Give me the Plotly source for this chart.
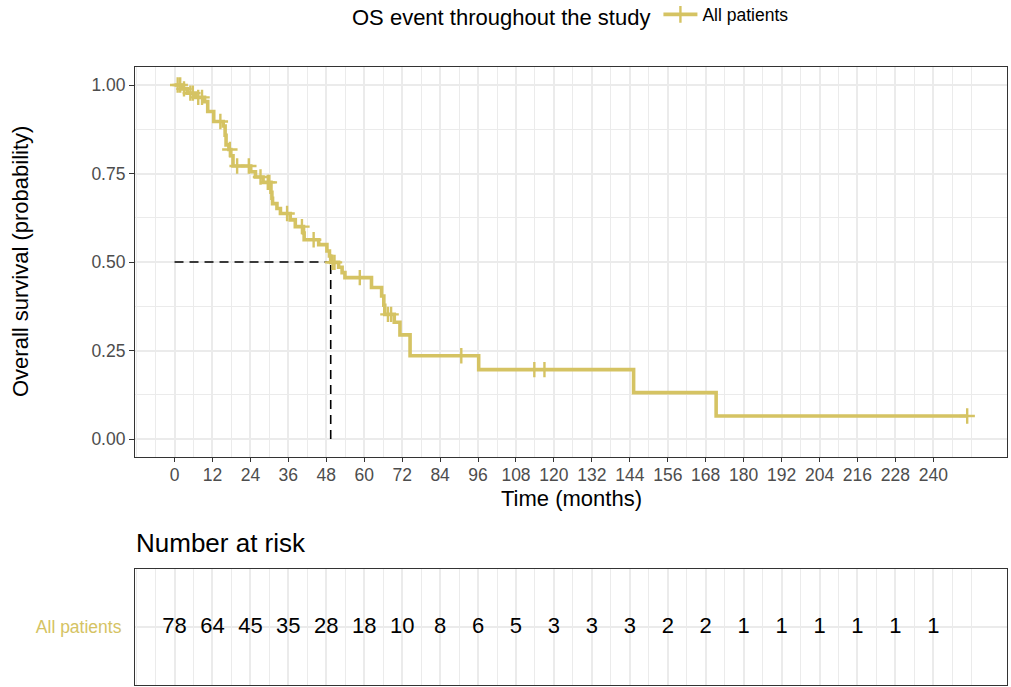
import plotly.graph_objects as go

W, H = 1011, 687

# ---- data ----
event_times = [2.4, 4.0, 6.6, 9.5, 10.5, 12.4, 15.4, 16.0, 16.3, 17.2, 17.8, 18.5,
               24.1, 25.6, 28.0, 30.5, 30.8, 31.0, 32.4, 33.5, 36.6, 38.2, 40.8, 41.0,
               45.6, 48.2, 49.0, 49.4, 51.9, 53.0, 53.9, 62.3, 65.5, 66.2, 66.5, 69.5,
               71.3, 74.5, 96.2, 145.2, 171.3]
surv = [0.989, 0.977, 0.965, 0.953, 0.925, 0.897, 0.884, 0.858, 0.831, 0.818, 0.800, 0.771,
        0.755, 0.740, 0.725, 0.697, 0.680, 0.665, 0.651, 0.637, 0.619, 0.600, 0.582, 0.563,
        0.549, 0.531, 0.517, 0.499, 0.485, 0.470, 0.456, 0.428, 0.404, 0.378, 0.352, 0.330,
        0.294, 0.235, 0.196, 0.131, 0.065]
censor_times = [1.0, 1.8, 3.0, 5.0, 5.8, 7.5, 8.7, 14.5, 17.5, 19.8, 23.5, 27.2, 29.5,
                30.0, 35.6, 40.3, 44.0, 50.0, 50.6, 58.6, 67.5, 68.5, 90.7, 113.8, 117.0,
                250.7]
median_time = 49.4
median_surv = 0.5

risk_times = [0, 12, 24, 36, 48, 60, 72, 84, 96, 108, 120, 132, 144, 156, 168, 180,
              192, 204, 216, 228, 240]
n_risk = [78, 64, 45, 35, 28, 18, 10, 8, 6, 5, 3, 3, 3, 2, 2, 1, 1, 1, 1, 1, 1]

x_ticks = risk_times
y_ticks = [0, 0.25, 0.5, 0.75, 1.0]
group = "All patients"

GOLD = "#D5C363"
GRID = "#EBEBEB"
BORDER = "#333333"
FONT = "Liberation Sans"


def s_at(t):
    s = 1.0
    for et, sv in zip(event_times, surv):
        if et <= t:
            s = sv
    return s


curve_x = [0] + event_times + [censor_times[-1]]
curve_y = [1.0] + surv + [surv[-1]]
censor_y = [s_at(t) for t in censor_times]

fig = go.Figure()

# median dashed lines
fig.add_trace(go.Scatter(x=[0, median_time], y=[median_surv, median_surv], mode="lines",
                         line=dict(color="black", width=1.6, dash="9px,6px"),
                         showlegend=False, hoverinfo="skip", xaxis="x", yaxis="y"))
fig.add_trace(go.Scatter(x=[median_time, median_time], y=[0, median_surv], mode="lines",
                         line=dict(color="black", width=1.6, dash="9px,6px"),
                         showlegend=False, hoverinfo="skip", xaxis="x", yaxis="y"))

# KM curve
fig.add_trace(go.Scatter(x=curve_x, y=curve_y, mode="lines", line_shape="hv",
                         line=dict(color=GOLD, width=3.6), showlegend=False,
                         xaxis="x", yaxis="y"))
# censor marks
fig.add_trace(go.Scatter(x=censor_times, y=censor_y, mode="markers",
                         marker=dict(symbol="cross-thin", size=11,
                                     line=dict(color=GOLD, width=2.4)),
                         showlegend=False, xaxis="x", yaxis="y"))
# legend entry
fig.add_trace(go.Scatter(x=[None], y=[None], mode="lines+markers", name=group,
                         line=dict(color=GOLD, width=3.6),
                         marker=dict(symbol="cross-thin", size=12,
                                     line=dict(color=GOLD, width=2.4)),
                         xaxis="x", yaxis="y"))

# risk table
fig.add_trace(go.Scatter(x=risk_times, y=[group] * len(risk_times), mode="text",
                         text=[str(n) for n in n_risk],
                         textfont=dict(family=FONT, size=22, color="black"),
                         showlegend=False, xaxis="x2", yaxis="y2"))

xr = [-12.5, 263.2]
minor_vals = [v for v in range(-12, 258, 6)]

common_x = dict(range=xr, showgrid=True, gridcolor=GRID, gridwidth=1.6,
                showline=True, mirror=True, linecolor=BORDER, linewidth=1.1,
                zeroline=False,
                minor=dict(tickmode="array", tickvals=minor_vals, showgrid=True,
                           gridcolor=GRID, gridwidth=0.9, ticks=""),
                tickmode="array", tickvals=x_ticks)

fig.update_layout(
    width=W, height=H, autosize=False,
    margin=dict(l=0, r=0, t=0, b=0, autoexpand=False),
    paper_bgcolor="white", plot_bgcolor="white",
    font=dict(family=FONT, color="black"),
    xaxis=dict(domain=[135 / W, 1006.7 / W], anchor="y",
               ticks="outside", ticklen=4, tickwidth=1.1, tickcolor=BORDER,
               ticklabelstandoff=-2,
               ticktext=[str(v) for v in x_ticks],
               tickfont=dict(family=FONT, size=17.5, color="#4D4D4D"),
               **common_x),
    yaxis=dict(domain=[1 - 456.7 / H, 1 - 67.3 / H], anchor="x",
               range=[-0.05, 1.05], tickmode="array", tickvals=y_ticks,
               ticktext=["%.2f" % v for v in y_ticks],
               ticks="outside", ticklen=5, tickwidth=1.1, tickcolor=BORDER,
               tickfont=dict(family=FONT, size=17.5, color="#4D4D4D"),
               showgrid=True, gridcolor=GRID, gridwidth=1.6,
               minor=dict(dtick=0.125, tick0=0, showgrid=True, gridcolor=GRID,
                          gridwidth=0.9, ticks=""),
               showline=True, mirror=True, linecolor=BORDER, linewidth=1.1,
               zeroline=False),
    xaxis2=dict(domain=[135 / W, 1006.7 / W], anchor="y2",
                showticklabels=False, ticks="", **common_x),
    yaxis2=dict(domain=[1 - 685 / H, 1 - 569 / H], anchor="x2",
                type="category", categoryarray=[group],
                ticks="outside", ticklen=9, tickcolor="rgba(0,0,0,0)",
                tickfont=dict(family=FONT, size=17.5, color=GOLD),
                showgrid=True, gridcolor=GRID, gridwidth=1.6,
                showline=True, mirror=True, linecolor=BORDER, linewidth=1.1,
                zeroline=False),
    legend=dict(orientation="h", x=572 / W, xanchor="center",
                y=1 - 16 / H, yanchor="middle",
                title=dict(text="OS event throughout the study", side="left",
                           font=dict(family=FONT, size=22, color="black")),
                font=dict(family=FONT, size=17.5, color="black"),
                itemwidth=34, bgcolor="rgba(0,0,0,0)"),
    annotations=[
        dict(text="Time (months)", x=571 / W, y=1 - 498 / H, xref="paper", yref="paper",
             xanchor="center", yanchor="middle", showarrow=False,
             font=dict(family=FONT, size=22, color="black")),
        dict(text="Overall survival (probability)", x=21 / W, y=1 - 262 / H,
             xref="paper", yref="paper", xanchor="center", yanchor="middle",
             textangle=-90, showarrow=False,
             font=dict(family=FONT, size=22, color="black")),
        dict(text="Number at risk", x=134 / W, y=1 - 543 / H, xref="paper", yref="paper",
             xanchor="left", yanchor="middle", showarrow=False,
             font=dict(family=FONT, size=26, color="black")),
    ],
)

fig.write_html("out.html",
               config={"displayModeBar": False},
               post_script="document.body.style.margin='0px';"
                           "document.body.style.overflow='hidden';")
